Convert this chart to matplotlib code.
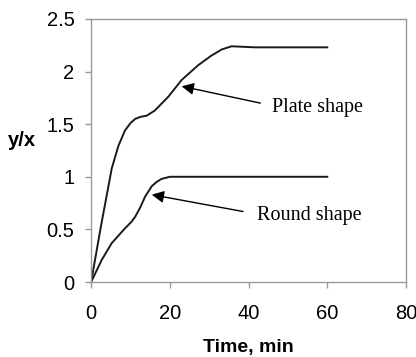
import numpy as np
import matplotlib
matplotlib.use('Agg')
import matplotlib.pyplot as plt

# Data
plate_t = [0, 2.5, 5.25, 6.9, 8.6, 10.0, 11.2, 12.6, 14.1, 16.2, 19.6, 23.0, 27.2, 30.5, 33.2, 35.7, 41.6, 60]
plate_y = [0, 0.53, 1.08, 1.29, 1.44, 1.51, 1.55, 1.57, 1.58, 1.63, 1.76, 1.92, 2.06, 2.15, 2.21, 2.24, 2.23, 2.23]

round_t = [0, 2.7, 5.25, 8.6, 10.2, 11.2, 12.5, 13.7, 15.4, 16.6, 17.9, 20.0, 60]
round_y = [0, 0.21, 0.37, 0.51, 0.57, 0.62, 0.71, 0.81, 0.91, 0.95, 0.98, 1.0, 1.0]

xticks = [0, 20, 40, 60, 80]
yticks = [0, 0.5, 1, 1.5, 2, 2.5]
ytick_labels = ['0', '0.5', '1', '1.5', '2', '2.5']

plt.rcParams['font.family'] = ['Liberation Sans', 'DejaVu Sans']

fig = plt.figure(figsize=(4.16, 3.57), dpi=100)
ax = fig.add_axes([0.219, 0.21, 0.757, 0.737])

ax.plot(plate_t, plate_y, color='#1a1a1a', lw=1.4, solid_joinstyle='round')
ax.plot(round_t, round_y, color='#1a1a1a', lw=1.4, solid_joinstyle='round')

ax.set_xlim(0, 80)
ax.set_ylim(0, 2.5)
ax.set_xticks(xticks)
ax.set_yticks(yticks)
ax.set_yticklabels(ytick_labels)

for s in ax.spines.values():
    s.set_color('#999999')
    s.set_linewidth(1.0)
ax.tick_params(direction='out', length=4, width=1, color='#999999', labelsize=14.5)
ax.tick_params(axis='x', pad=12)
ax.tick_params(axis='y', pad=8)

ax.set_xlabel('Time, min', fontsize=14, fontweight='bold')
ax.xaxis.set_label_coords(0.5, -0.215)
ax.set_ylabel('y/x', fontsize=14.5, fontweight='bold', rotation=0)
ax.yaxis.set_label_coords(-0.22, 0.50)

arrow = dict(arrowstyle='-|>', color='black', lw=1.0, mutation_scale=18,
             shrinkA=0, shrinkB=0)
ax.annotate('', xy=(23.0, 1.86), xytext=(43.0, 1.70), arrowprops=arrow)
ax.annotate('', xy=(15.4, 0.83), xytext=(38.6, 0.67), arrowprops=arrow)
ax.text(46, 1.66, 'Plate shape', family='Liberation Serif', fontsize=14.5, va='center')
ax.text(42.2, 0.63, 'Round shape', family='Liberation Serif', fontsize=14.5, va='center')

fig.savefig('out.png', dpi=100)
